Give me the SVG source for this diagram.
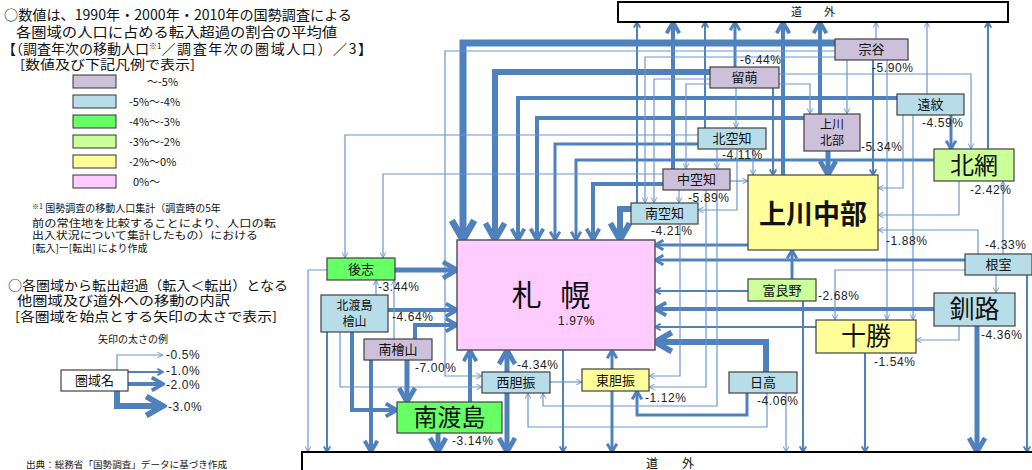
<svg xmlns="http://www.w3.org/2000/svg" width="1032" height="470" viewBox="0 0 1032 470">
<defs>
<style>
.c{fill:none;stroke:#4F81BD;stroke-linejoin:miter;marker-end:url(#m)}
.t1{stroke-width:1.2;stroke:#6A97CF;marker-end:url(#n)}
.t2{stroke-width:2}
.t3{stroke-width:3}
.t4{stroke-width:4}
.t5{stroke-width:5}
.t6{stroke-width:6}
.t7{stroke-width:7}
.nb{stroke:#404040;stroke-width:1.2}
.lav{fill:#CCC0DA}
.lb{fill:#B7DEE8}
.gr{fill:#66FF66}
.lg{fill:#CCFF99}
.ye{fill:#FFFF99}
.pk{fill:#FFCCFF}
.j{font-family:"Noto Sans CJK JP","Noto Sans CJK SC",sans-serif;fill:#111}
.jc{font-family:"Noto Sans CJK JP","Noto Sans CJK SC",sans-serif;fill:#111;text-anchor:middle}
.p{font-family:"Liberation Sans",Arial,sans-serif;font-size:12px;letter-spacing:0.6px;fill:#222}
</style>
<marker id="m" viewBox="0 0 10 10" refX="8.5" refY="5" markerWidth="4" markerHeight="4" orient="auto" markerUnits="strokeWidth">
<path d="M1.5,1 L8.5,5 L1.5,9" fill="none" stroke="#4F81BD" stroke-width="2.4"/>
</marker>
<marker id="n" viewBox="0 0 10 10" refX="9" refY="5" markerWidth="7" markerHeight="7" orient="auto" markerUnits="userSpaceOnUse">
<path d="M1,1 L9,5 L1,9" fill="none" stroke="#6A97CF" stroke-width="1.4"/>
</marker>
</defs>
<rect width="1032" height="470" fill="#fff"/>

<g id="legend">
<text class="j" x="4" y="20" font-size="14" textLength="348" lengthAdjust="spacingAndGlyphs">○数値は、1990年・2000年・2010年の国勢調査による</text>
<text class="j" x="16" y="37" font-size="14" textLength="321" lengthAdjust="spacingAndGlyphs">各圏域の人口に占める転入超過の割合の平均値</text>
<text class="j" x="2" y="54" font-size="14">【（調査年次の移動人口<tspan font-size="8" dy="-5">※1</tspan><tspan dy="5" letter-spacing="1.6">／調査年次の圏域人口）／3】</tspan></text>
<text class="j" x="20" y="69" font-size="13" textLength="175" lengthAdjust="spacingAndGlyphs">[数値及び下記凡例で表示]</text>
<rect x="73" y="75" width="43" height="13" class="lav" stroke="#333"/>
<rect x="73" y="95" width="43" height="13" class="lb" stroke="#333"/>
<rect x="73" y="115" width="43" height="13" class="gr" stroke="#333"/>
<rect x="73" y="135" width="43" height="13" class="lg" stroke="#333"/>
<rect x="73" y="155" width="43" height="13" class="ye" stroke="#333"/>
<rect x="73" y="175" width="43" height="13" class="pk" stroke="#333"/>
<text class="j" x="147" y="86" font-size="11">～-5%</text>
<text class="j" x="129" y="106" font-size="11">-5%～-4%</text>
<text class="j" x="129" y="126" font-size="11">-4%～-3%</text>
<text class="j" x="129" y="146" font-size="11">-3%～-2%</text>
<text class="j" x="129" y="166" font-size="11">-2%～0%</text>
<text class="j" x="133" y="186" font-size="11">0%～</text>
<text class="j" x="32" y="212" font-size="10"><tspan font-size="7" dy="-3">※1</tspan><tspan dy="3"> 国勢調査の移動人口集計（調査時の5年</tspan></text>
<text class="j" x="32" y="227" font-size="10" textLength="244" lengthAdjust="spacingAndGlyphs">前の常住地を比較することにより、人口の転</text>
<text class="j" x="32" y="239" font-size="10" textLength="226" lengthAdjust="spacingAndGlyphs">出入状況について集計したもの）における</text>
<text class="j" x="32" y="252" font-size="10">[転入]ー[転出] により作成</text>
<text class="j" x="8" y="290" font-size="13" textLength="280" lengthAdjust="spacingAndGlyphs">○各圏域から転出超過（転入＜転出）となる</text>
<text class="j" x="17" y="305" font-size="13" textLength="213" lengthAdjust="spacingAndGlyphs">他圏域及び道外への移動の内訳</text>
<text class="j" x="15" y="321" font-size="13" textLength="262" lengthAdjust="spacingAndGlyphs">[各圏域を始点とする矢印の太さで表示]</text>
<text class="j" x="98" y="343" font-size="10">矢印の太さの例</text>
<path class="c t1" d="M117,370 V355 H163"/>
<path class="c t2" d="M128,372 H163"/>
<path class="c t4" d="M128,384 H163"/>
<path class="c t6" d="M117,391 V406 H163"/>
<rect x="61" y="370" width="67" height="21" fill="#fff" class="nb"/>
<text class="jc" x="94.5" y="385" font-size="13">圏域名</text>
<text class="p" x="166" y="359" font-size="11">-0.5%</text>
<text class="p" x="166" y="375" font-size="11">-1.0%</text>
<text class="p" x="166" y="389" font-size="11">-2.0%</text>
<text class="p" x="168" y="411" font-size="11">-3.0%</text>
<text class="j" x="26" y="468" font-size="9" textLength="201" lengthAdjust="spacingAndGlyphs">出典：総務省「国勢調査」データに基づき作成</text>
</g>

<g id="connectors">
<path class="c t7" d="M835,43 H463 V240"/>
<path class="c t6" d="M710,72 H495 V240"/>
<path class="c t4" d="M897,98 H518 V240"/>
<path class="c t4" d="M804,118 H537 V240"/>
<path class="c t3" d="M698,144 H555 V240"/>
<path class="c t3" d="M934,160 H576 V240"/>
<path class="c t4" d="M663,184 H593 V240"/>
<path class="c t6" d="M631,209 H620 V240"/>
<path class="c t2" d="M637,203 V22"/>
<path class="c t4" d="M673,169 V22"/>
<path class="c t2" d="M705,128 V22"/>
<path class="c t3" d="M735,67 V22"/>
<path class="c t4" d="M783,175 V22"/>
<path class="c t4" d="M820,114 V22"/>
<path class="c t1" d="M876,39 V22"/>
<path class="c t1" d="M927,94 V22"/>
<path class="c t2" d="M988,149 V22"/>
<path class="c t1" d="M835,57 H645 V203"/>
<path class="c t1" d="M835,51 H445 V376 H482"/>
<path class="c t1" d="M698,135 H345 V258"/>
<path class="c t1" d="M663,174 H383 V258"/>
<path class="c t1" d="M710,79 H654 V203"/>
<path class="c t1" d="M710,84 H686 V169"/>
<path class="c t1" d="M779,74 H971 V149"/>
<path class="c t1" d="M779,84 H810 V114"/>
<path class="c t1" d="M736,88 V128"/>
<path class="c t2" d="M773,88 V175"/>
<path class="c t1" d="M847,60 V114"/>
<path class="c t2" d="M873,60 V175"/>
<path class="c t1" d="M887,60 V320"/>
<path class="c t1" d="M913,115 V320"/>
<path class="c t3" d="M951,115 V149"/>
<path class="c t1" d="M903,115 V188 H878"/>
<path class="c t5" d="M828,151 V175"/>
<path class="c t1" d="M717,149 V169"/>
<path class="c t1" d="M753,149 V175"/>
<path class="c t1" d="M737,149 V210 H698"/>
<path class="c t1" d="M730,181 H748"/>
<path class="c t1" d="M679,190 V203"/>
<path class="c t1" d="M959,181 V215 H878"/>
<path class="c t1" d="M978,254 V230 H878"/>
<path class="c t1" d="M1003,254 V181"/>
<path class="c t3" d="M748,245 H655"/>
<path class="c t3" d="M965,260 H655"/>
<path class="c t3" d="M792,279 V250"/>
<path class="c t2" d="M748,291 H655"/>
<path class="c t4" d="M934,309 H655"/>
<path class="c t2" d="M816,327 H655"/>
<path class="c t6" d="M766,372 V342 H655"/>
<path class="c t2" d="M803,301 V452"/>
<path class="c t3" d="M747,393 V415 H637 V391"/>
<path class="c t1" d="M767,393 V427 H528 V393"/>
<path class="c t1" d="M786,393 V452"/>
<path class="c t2" d="M865,353 V452"/>
<path class="c t5" d="M977,326 V452"/>
<path class="c t2" d="M1027,275 V452"/>
<path class="c t1" d="M996,275 V293"/>
<path class="c t1" d="M965,270 H835 V320"/>
<path class="c t1" d="M959,326 V340 H916"/>
<path class="c t1" d="M680,224 V376 H649"/>
<path class="c t1" d="M706,190 V387 H649"/>
<path class="c t1" d="M717,190 V406 H543 V393"/>
<path class="c t2" d="M563,350 V452"/>
<path class="c t5" d="M507,372 V350"/>
<path class="c t5" d="M507,393 V452"/>
<path class="c t3" d="M612,369 V350"/>
<path class="c t3" d="M612,391 V452"/>
<path class="c t1" d="M550,382 H582"/>
<path class="c t4" d="M470,402 V350"/>
<path class="c t5" d="M438,433 V452"/>
<path class="c t5" d="M395,270 H457"/>
<path class="c t1" d="M327,270 H308 V452"/>
<path class="c t4" d="M388,310 H457"/>
<path class="c t2" d="M327,332 V452"/>
<path class="c t1" d="M340,332 V387 H482"/>
<path class="c t4" d="M352,332 V410 H397"/>
<path class="c t1" d="M376,295 V280"/>
<path class="c t1" d="M394,339 V280"/>
<path class="c t4" d="M415,339 V325 H457"/>
<path class="c t5" d="M407,360 V402"/>
<path class="c t4" d="M371,360 V452"/>
</g>

<g id="dougai-top">
<rect x="618" y="2" width="390" height="20" fill="#fff" stroke="#000" stroke-width="2"/>
<text class="jc" x="813" y="16" font-size="11" xml:space="preserve">道　　外</text>
</g>
<g id="dougai-bottom">
<rect x="302" y="452" width="740" height="30" fill="#fff" stroke="#000" stroke-width="2"/>
<text class="jc" x="670" y="468" font-size="12" xml:space="preserve">道　　外</text>
</g>

<g id="soya"><rect x="835" y="39" width="73" height="21" class="lav nb"/><text class="jc" x="871.5" y="54" font-size="13">宗谷</text><text class="p" x="872" y="72">-5.90%</text></g>
<g id="rumoi"><rect x="710" y="67" width="69" height="21" class="lav nb"/><text class="jc" x="744.5" y="82" font-size="13">留萌</text><text class="p" x="740" y="64">-6.44%</text></g>
<g id="enmon"><rect x="897" y="94" width="67" height="21" class="lb nb"/><text class="jc" x="930.5" y="109" font-size="13">遠紋</text><text class="p" x="922" y="127">-4.59%</text></g>
<g id="kamikawa-hokubu"><rect x="804" y="114" width="56" height="37" class="lav nb"/><text class="jc" x="832" y="129" font-size="12">上川</text><text class="jc" x="832" y="145" font-size="12">北部</text><text class="p" x="861" y="151">-5.34%</text></g>
<g id="kitasorachi"><rect x="698" y="128" width="68" height="21" class="lb nb"/><text class="jc" x="732" y="143" font-size="13">北空知</text><text class="p" x="722" y="159">-4.11%</text></g>
<g id="abashiri"><rect x="934" y="149" width="80" height="32" class="lg nb"/><text class="jc" x="974" y="174" font-size="24">北網</text><text class="p" x="970" y="194">-2.42%</text></g>
<g id="nakasorachi"><rect x="663" y="169" width="67" height="21" class="lav nb"/><text class="jc" x="696.5" y="184" font-size="13">中空知</text><text class="p" x="688" y="202">-5.89%</text></g>
<g id="kamikawa-chubu"><rect x="748" y="175" width="130" height="75" class="ye nb"/><text class="jc" x="813" y="224" font-size="27" font-weight="bold">上川中部</text><text class="p" x="886" y="245">-1.88%</text></g>
<g id="minamisorachi"><rect x="631" y="203" width="67" height="21" class="lb nb"/><text class="jc" x="664.5" y="218" font-size="13">南空知</text><text class="p" x="651" y="235">-4.21%</text></g>
<g id="sapporo"><rect x="457" y="240" width="198" height="110" class="pk" stroke="#555" stroke-width="1.5"/><text class="jc" x="554" y="306" font-size="30" letter-spacing="6" xml:space="preserve">札 幌</text><text class="p" x="558" y="325">1.97%</text></g>
<g id="shiribeshi"><rect x="327" y="258" width="68" height="22" class="gr nb"/><text class="jc" x="361" y="274" font-size="13">後志</text><text class="p" x="378" y="291">-3.44%</text></g>
<g id="kitaoshima-hiyama"><rect x="321" y="295" width="67" height="37" class="lb nb"/><text class="jc" x="354.5" y="310" font-size="12">北渡島</text><text class="jc" x="354.5" y="326" font-size="12">檜山</text><text class="p" x="392" y="321">-4.64%</text></g>
<g id="minamihiyama"><rect x="364" y="339" width="68" height="21" class="lav nb"/><text class="jc" x="398" y="354" font-size="13">南檜山</text><text class="p" x="415" y="372">-7.00%</text></g>
<g id="nishiiburi"><rect x="482" y="372" width="68" height="21" class="lb nb"/><text class="jc" x="516" y="387" font-size="13">西胆振</text><text class="p" x="517" y="369">-4.34%</text></g>
<g id="higashiiburi"><rect x="582" y="369" width="67" height="22" class="ye nb"/><text class="jc" x="615.5" y="385" font-size="13">東胆振</text><text class="p" x="645" y="402">-1.12%</text></g>
<g id="minamioshima"><rect x="397" y="402" width="105" height="31" class="gr nb"/><text class="jc" x="449.5" y="426" font-size="24">南渡島</text><text class="p" x="452" y="445">-3.14%</text></g>
<g id="hidaka"><rect x="729" y="372" width="68" height="21" class="lb nb"/><text class="jc" x="763" y="387" font-size="13">日高</text><text class="p" x="757" y="405">-4.06%</text></g>
<g id="furano"><rect x="748" y="279" width="68" height="22" class="lg nb"/><text class="jc" x="782" y="295" font-size="13">富良野</text><text class="p" x="818" y="300">-2.68%</text></g>
<g id="tokachi"><rect x="816" y="320" width="100" height="33" class="ye nb"/><text class="jc" x="866" y="345" font-size="25">十勝</text><text class="p" x="874" y="366">-1.54%</text></g>
<g id="kushiro"><rect x="934" y="293" width="81" height="33" class="lb nb"/><text class="jc" x="974.5" y="318" font-size="25">釧路</text><text class="p" x="981" y="339">-4.36%</text></g>
<g id="nemuro"><rect x="965" y="254" width="67" height="21" class="lb nb"/><text class="jc" x="998.5" y="269" font-size="13">根室</text><text class="p" x="985" y="249">-4.33%</text></g>
</svg>
